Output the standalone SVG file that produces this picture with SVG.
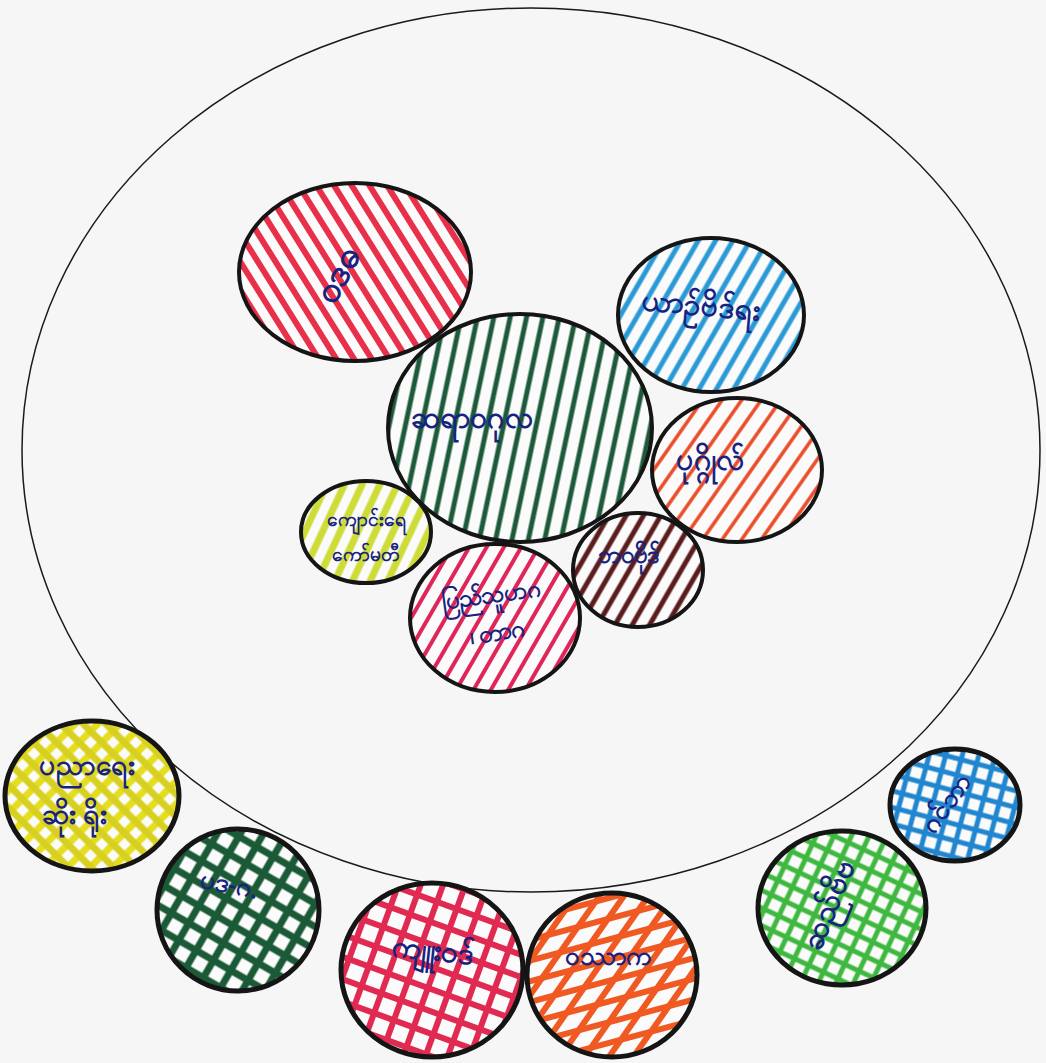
<svg xmlns="http://www.w3.org/2000/svg" width="1046" height="1063" viewBox="0 0 1046 1063">
<style>
.ring{stroke:#151515;stroke-width:4}
.base{fill:#fbfbfb}
.lbl{fill:#17237f;font-family:"Noto Sans","DejaVu Sans",sans-serif;font-size:30px;font-weight:600;text-anchor:middle}
</style>
<defs>
<pattern id="pRed" width="15" height="15" patternUnits="userSpaceOnUse" patternTransform="rotate(-32)"><line x1="5" y1="0" x2="5" y2="15" stroke="#e8304a" stroke-width="6"/></pattern>
<pattern id="pBlue" width="15" height="15" patternUnits="userSpaceOnUse" patternTransform="rotate(30)"><line x1="5" y1="0" x2="5" y2="15" stroke="#2a9ad6" stroke-width="5"/></pattern>
<pattern id="pGreen" width="16" height="16" patternUnits="userSpaceOnUse" patternTransform="rotate(12)"><line x1="5" y1="0" x2="5" y2="16" stroke="#1d5a3a" stroke-width="5"/></pattern>
<pattern id="pOrange" width="16" height="16" patternUnits="userSpaceOnUse" patternTransform="rotate(35)"><line x1="5" y1="0" x2="5" y2="16" stroke="#ea4a26" stroke-width="3.5"/></pattern>
<pattern id="pLime" width="16" height="16" patternUnits="userSpaceOnUse" patternTransform="rotate(25)"><line x1="5" y1="0" x2="5" y2="16" stroke="#cddc36" stroke-width="7"/></pattern>
<pattern id="pPink" width="15" height="15" patternUnits="userSpaceOnUse" patternTransform="rotate(30)"><line x1="5" y1="0" x2="5" y2="15" stroke="#e0255a" stroke-width="4"/></pattern>
<pattern id="pBrown" width="15" height="15" patternUnits="userSpaceOnUse" patternTransform="rotate(30)"><line x1="5" y1="0" x2="5" y2="15" stroke="#5a1c1c" stroke-width="5"/></pattern>
<pattern id="xYellow" width="16" height="16" patternUnits="userSpaceOnUse" patternTransform="rotate(45)"><line x1="5" y1="0" x2="5" y2="16" stroke="#e4de1e" stroke-width="7"/><line x1="0" y1="5" x2="16" y2="5" stroke="#d8d020" stroke-width="7"/></pattern>
<pattern id="xDkGreen" width="20" height="20" patternUnits="userSpaceOnUse" patternTransform="rotate(30)"><line x1="5" y1="0" x2="5" y2="20" stroke="#1b5a36" stroke-width="7"/><line x1="0" y1="5" x2="20" y2="5" stroke="#1b5a36" stroke-width="7"/></pattern>
<pattern id="xPink" width="21" height="21" patternUnits="userSpaceOnUse" patternTransform="rotate(20)"><line x1="5" y1="0" x2="5" y2="21" stroke="#e12a52" stroke-width="6"/><line x1="0" y1="5" x2="21" y2="5" stroke="#e12a52" stroke-width="6"/></pattern>
<pattern id="xOrangeA" width="20" height="20" patternUnits="userSpaceOnUse" patternTransform="rotate(35)"><line x1="5" y1="0" x2="5" y2="20" stroke="#f05a22" stroke-width="6"/></pattern>
<pattern id="xOrangeB" width="20" height="20" patternUnits="userSpaceOnUse" patternTransform="rotate(-15)"><line x1="0" y1="5" x2="20" y2="5" stroke="#f05a22" stroke-width="6"/></pattern>
<pattern id="xGreen" width="16" height="16" patternUnits="userSpaceOnUse" patternTransform="rotate(25)"><line x1="5" y1="0" x2="5" y2="16" stroke="#3fb840" stroke-width="5"/><line x1="0" y1="5" x2="16" y2="5" stroke="#3fb840" stroke-width="5"/></pattern>
<pattern id="xBlue" width="16" height="16" patternUnits="userSpaceOnUse" patternTransform="rotate(15)"><line x1="5" y1="0" x2="5" y2="16" stroke="#1f86cf" stroke-width="5"/><line x1="0" y1="5" x2="16" y2="5" stroke="#1f86cf" stroke-width="5"/></pattern>
</defs>
<rect width="1046" height="1063" fill="#f6f6f6"/>
<g id="outer">
<ellipse cx="531" cy="450" rx="509" ry="442" fill="none" stroke="#1a1a1a" stroke-width="1.5"/>
</g>
<g id="n-red">
<ellipse class="base" cx="355" cy="272" rx="116" ry="89"/>
<ellipse cx="355" cy="272" rx="116" ry="89" fill="url(#pRed)" class="ring"/>
<text class="lbl" style="font-size:36px" transform="translate(348,280) rotate(-62)">ဝဒဓ</text>
</g>
<g id="n-blue">
<ellipse class="base" cx="711" cy="315" rx="93" ry="77"/>
<ellipse cx="711" cy="315" rx="93" ry="77" fill="url(#pBlue)" class="ring"/>
<text class="lbl" transform="translate(700,315) rotate(5)">ယာဉ်ဗိဒ်ရး</text>
</g>
<g id="n-green">
<ellipse class="base" cx="520" cy="428" rx="132" ry="114"/>
<ellipse cx="520" cy="428" rx="132" ry="114" fill="url(#pGreen)" class="ring"/>
<text class="lbl" x="472" y="428">ဆရာဝဂုလ</text>
</g>
<g id="n-orange">
<ellipse class="base" cx="737" cy="470" rx="85" ry="72"/>
<ellipse cx="737" cy="470" rx="85" ry="72" fill="url(#pOrange)" class="ring"/>
<text class="lbl" x="710" y="470">ပုဂ္ဂိုလ်</text>
</g>
<g id="n-lime">
<ellipse class="base" cx="366" cy="532" rx="65" ry="51"/>
<ellipse cx="366" cy="532" rx="65" ry="51" fill="url(#pLime)" class="ring"/>
<text class="lbl" style="font-size:19px" x="366" y="526">ကျောင်းရေ</text>
<text class="lbl" style="font-size:19px" x="366" y="561">ကော်မတီ</text>
</g>
<g id="n-pink">
<ellipse class="base" cx="495" cy="618" rx="85" ry="74"/>
<ellipse cx="495" cy="618" rx="85" ry="74" fill="url(#pPink)" class="ring"/>
<text class="lbl" style="font-size:24px" transform="translate(492,603) rotate(-8)">ပြည်သူပာဂ</text>
<text class="lbl" style="font-size:24px" transform="translate(498,640) rotate(-8)">၊ တာဂ</text>
</g>
<g id="n-brown">
<ellipse class="base" cx="638" cy="570" rx="65" ry="57"/>
<ellipse cx="638" cy="570" rx="65" ry="57" fill="url(#pBrown)" class="ring"/>
<text class="lbl" style="font-size:24px" x="628" y="563">ဘဝဗိုဒ်</text>
</g>
<g id="n-yellow">
<ellipse class="base" cx="92" cy="796" rx="87" ry="75"/>
<ellipse cx="92" cy="796" rx="87" ry="75" fill="url(#xYellow)" class="ring" style="stroke-width:5"/>
<text class="lbl" style="font-size:28px" x="86" y="775">ပညာရေး</text>
<text class="lbl" style="font-size:28px" x="74" y="824">ဆိုး ရိုး</text>
</g>
<g id="n-dkgreen">
<ellipse class="base" cx="238" cy="910" rx="81" ry="81"/>
<ellipse cx="238" cy="910" rx="81" ry="81" fill="url(#xDkGreen)" class="ring" style="stroke-width:5"/>
<text class="lbl" style="font-size:26px" transform="translate(228,893) rotate(12)">ပဒ-ဂ.</text>
</g>
<g id="n-pinkx">
<ellipse class="base" cx="432" cy="970" rx="91" ry="87"/>
<ellipse cx="432" cy="970" rx="91" ry="87" fill="url(#xPink)" class="ring" style="stroke-width:5"/>
<text class="lbl" transform="translate(432,960) rotate(6)">ကျူးဝဒ်</text>
</g>
<g id="n-orangex">
<ellipse class="base" cx="612" cy="975" rx="85" ry="82"/>
<ellipse cx="612" cy="975" rx="85" ry="82" fill="url(#xOrangeA)"/>
<ellipse cx="612" cy="975" rx="85" ry="82" fill="url(#xOrangeB)" class="ring" style="stroke-width:5"/>
<text class="lbl" style="font-size:26px" x="608" y="965">ဝဿာက</text>
</g>
<g id="n-greenx">
<ellipse class="base" cx="842" cy="908" rx="84" ry="77"/>
<ellipse cx="842" cy="908" rx="84" ry="77" fill="url(#xGreen)" class="ring" style="stroke-width:5"/>
<text class="lbl" transform="translate(838,908) rotate(-68)">ဆည်ဗိဗ</text>
</g>
<g id="n-bluex">
<ellipse class="base" cx="955" cy="805" rx="65" ry="56"/>
<ellipse cx="955" cy="805" rx="65" ry="56" fill="url(#xBlue)" class="ring" style="stroke-width:5"/>
<text class="lbl" style="font-size:26px" transform="translate(953,808) rotate(-55)">ဂင်ဘာ</text>
</g>
<g id="connectors"/>
</svg>
